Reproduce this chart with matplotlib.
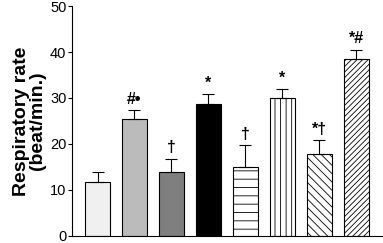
import matplotlib.pyplot as plt
import numpy as np

plt.rcParams['font.family'] = ['Liberation Sans', 'DejaVu Sans']

values = [11.8, 25.5, 13.9, 28.7, 14.9, 30.0, 17.9, 38.5]
errors = [2.1, 1.8, 2.9, 2.1, 4.9, 2.0, 3.0, 2.0]
marks = ['', '#\u2022', '\u2020', '*', '\u2020', '*', '*\u2020', '*#']
colors = ['#f0f0f0', '#bbbbbb', '#7f7f7f', '#000000', 'white', 'white', 'white', 'white']
hatches = ['', '', '', '', '--', '|||', '\\\\\\\\', '//////']

fig = plt.figure(figsize=(3.83, 2.43), dpi=100)
ax = fig.add_axes([0.188, 0.03, 0.812, 0.945])

x = np.arange(len(values))
plt.rcParams['hatch.linewidth'] = 0.6
bars = ax.bar(x, values, width=0.68, color=colors, edgecolor='black', linewidth=0.8,
              yerr=[np.zeros(len(values)), errors], capsize=4.5,
              error_kw=dict(elinewidth=0.8, capthick=0.8, ecolor='black'))
for b, h in zip(bars, hatches):
    if h:
        b.set_hatch(h)

for i in range(len(values)):
    if marks[i]:
        ax.text(x[i], values[i] + errors[i] + 0.7, marks[i], ha='center', va='bottom',
                fontsize=11.5, fontweight='bold')

ax.set_xlim(-0.69, 7.72)
ax.set_ylim(0, 50)
ax.set_yticks([0, 10, 20, 30, 40, 50])
ax.tick_params(axis='y', labelsize=10.5, length=3, width=0.8, pad=1)
ax.set_xticks([])
ax.spines['top'].set_visible(False)
ax.spines['right'].set_visible(False)
ax.spines['left'].set_linewidth(0.8)
ax.spines['bottom'].set_linewidth(0.8)
ax.set_ylabel('Respiratory rate\n(beat/min.)', fontsize=14, fontweight='bold', labelpad=3, linespacing=0.9)

fig.savefig('out.png', dpi=100)
